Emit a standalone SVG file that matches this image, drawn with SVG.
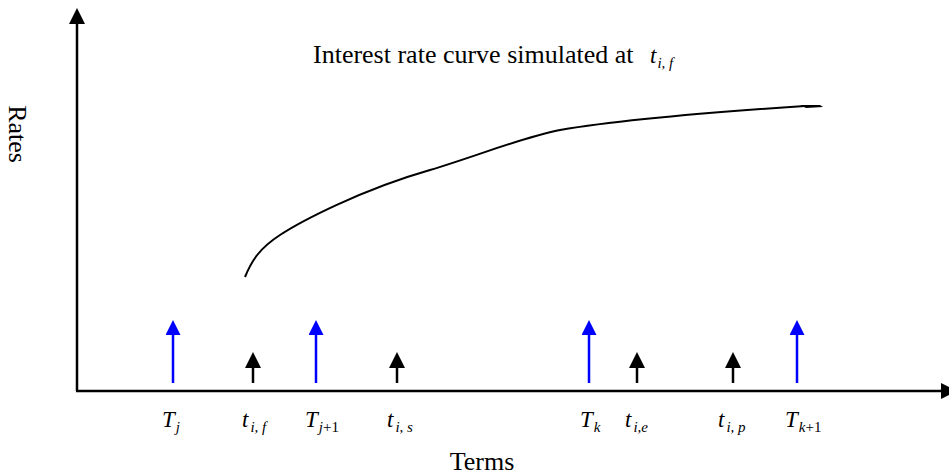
<svg xmlns="http://www.w3.org/2000/svg" width="949" height="475" viewBox="0 0 949 475">
<style>
.lbl{font-family:"Liberation Serif","Times New Roman",serif;font-size:26px;fill:#000}
.mi{font-family:"Liberation Serif","Times New Roman",serif;font-style:italic;font-size:23px;fill:#000}
.sub{font-size:15px}
.up{font-style:normal}
.ax{stroke:#000;stroke-width:2.5;fill:none}
.blue{stroke:#0000ff;stroke-width:2.5;fill:none}
.blk{stroke:#000;stroke-width:2.5;fill:none}
</style>
<defs>
<marker id="hb" viewBox="0 0 15 15" refX="0" refY="7.5" markerUnits="userSpaceOnUse" markerWidth="15" markerHeight="15" orient="auto"><path d="M0,0 L15,7.5 L0,15 Z" fill="#0000ff"/></marker>
<marker id="hk" viewBox="0 0 16 16" refX="0" refY="8" markerUnits="userSpaceOnUse" markerWidth="16" markerHeight="16" orient="auto"><path d="M0,0 L16,8 L0,16 Z" fill="#000"/></marker>
</defs>
<g id="axes">
<line class="ax" x1="77" y1="391" x2="77" y2="24" marker-end="url(#hk)"/>
<line class="ax" x1="76" y1="391" x2="941" y2="391" marker-end="url(#hk)"/>
</g>
<g id="curve">
<path d="M245,277 C252,260 260,248 280,235 C300,222 360,190 430,170 C480,155 520,138 560,130 C620,120 730,111 805,106" stroke="#000" stroke-width="2" fill="none"/>
<path d="M800,105 L820,105 L823,107 L806,108 Z" fill="#000"/>
</g>
<g id="connectors">
<line class="blue" x1="173" y1="383" x2="173" y2="335" marker-end="url(#hb)"/>
<line class="blue" x1="316" y1="383" x2="316" y2="335" marker-end="url(#hb)"/>
<line class="blue" x1="589" y1="383" x2="589" y2="335" marker-end="url(#hb)"/>
<line class="blue" x1="797" y1="383" x2="797" y2="335" marker-end="url(#hb)"/>
<line class="blk" x1="253" y1="383" x2="253" y2="368" marker-end="url(#hk)"/>
<line class="blk" x1="397" y1="383" x2="397" y2="368" marker-end="url(#hk)"/>
<line class="blk" x1="637" y1="383" x2="637" y2="368" marker-end="url(#hk)"/>
<line class="blk" x1="733" y1="383" x2="733" y2="368" marker-end="url(#hk)"/>
</g>
<g id="title">
<text class="lbl" x="313" y="63">Interest rate curve simulated at</text>
<text class="mi" x="650" y="63">t<tspan class="sub" dy="5" dx="1">i, f</tspan></text>
</g>
<g id="axis-labels">
<text class="lbl" transform="translate(9,134) rotate(90)" text-anchor="middle">Rates</text>
<text class="lbl" x="482" y="470" text-anchor="middle">Terms</text>
</g>
<g id="term-labels">
<text class="mi" x="162" y="427">T<tspan class="sub" dy="5" dx="1">j</tspan></text>
<text class="mi" x="242" y="427">t<tspan class="sub" dy="5" dx="2">i, f</tspan></text>
<text class="mi" x="305" y="427">T<tspan class="sub" dy="5" dx="1">j<tspan class="up">+1</tspan></tspan></text>
<text class="mi" x="387" y="427">t<tspan class="sub" dy="5" dx="2">i, s</tspan></text>
<text class="mi" x="580" y="427">T<tspan class="sub" dy="5" dx="1">k</tspan></text>
<text class="mi" x="625" y="427">t<tspan class="sub" dy="5" dx="2">i,e</tspan></text>
<text class="mi" x="718" y="427">t<tspan class="sub" dy="5" dx="2">i, p</tspan></text>
<text class="mi" x="785" y="427">T<tspan class="sub" dy="5" dx="1">k<tspan class="up">+1</tspan></tspan></text>
</g>
</svg>
